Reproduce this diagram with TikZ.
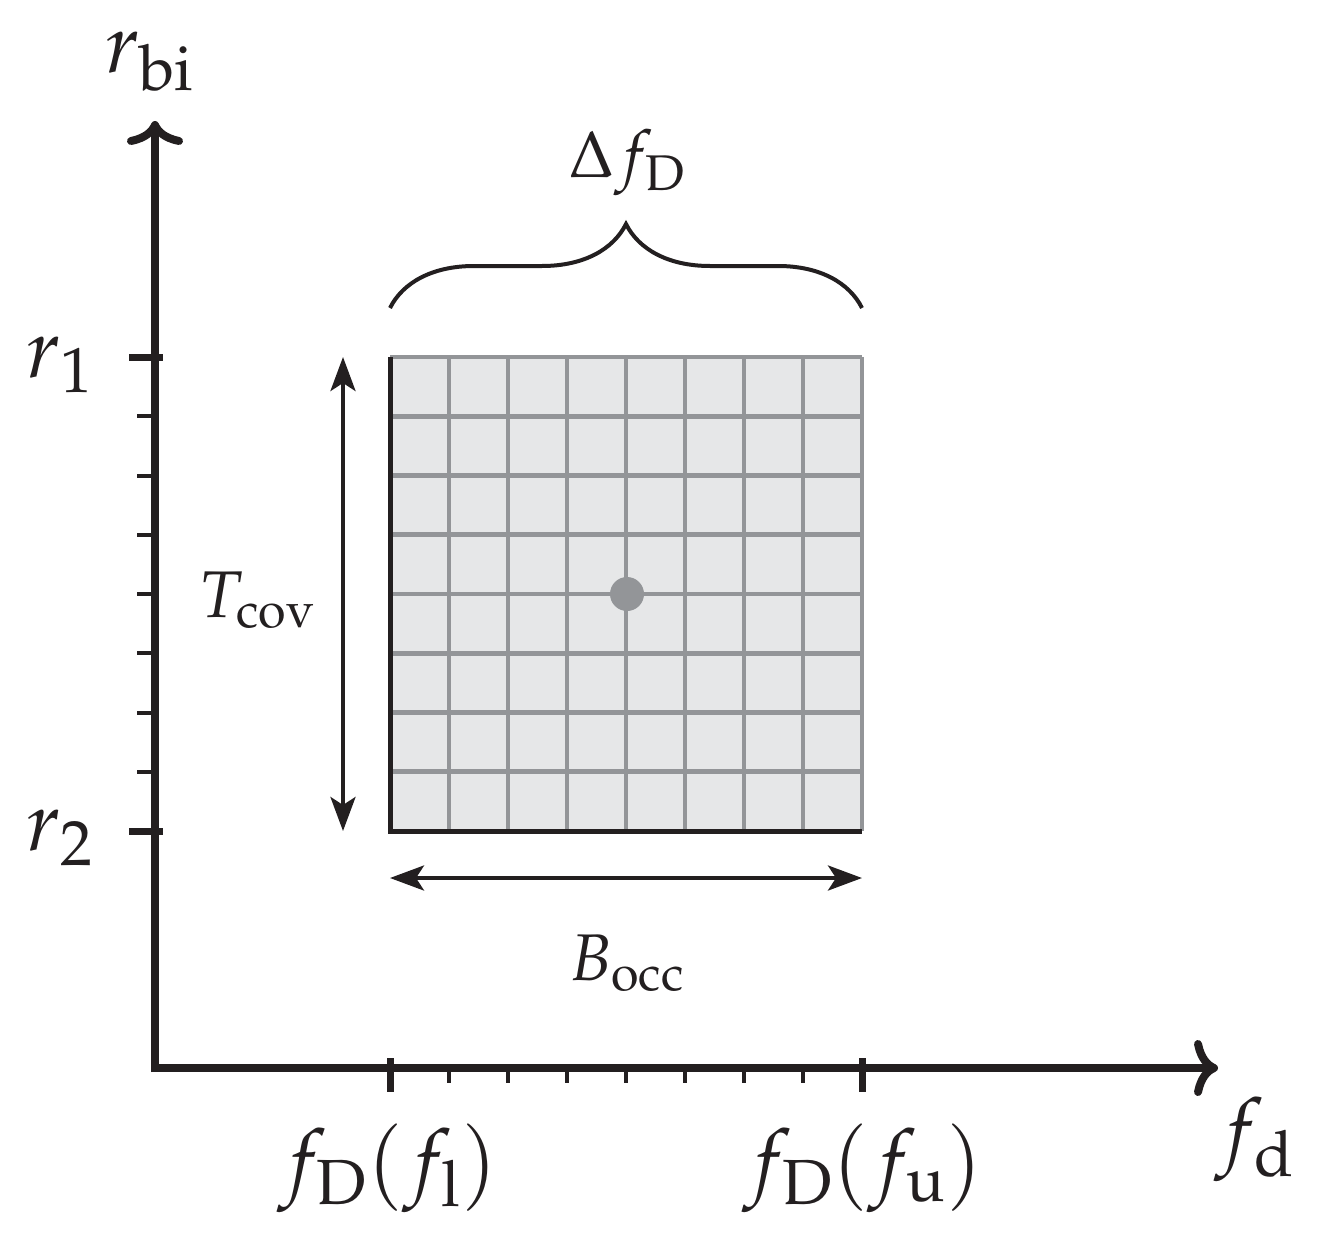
\documentclass[tikz,border=0pt]{standalone}
\usepackage{mathpazo}
\usetikzlibrary{arrows.meta,decorations.pathreplacing}
\definecolor{ink}{HTML}{231F20}
\definecolor{cellfill}{HTML}{E6E7E8}
\definecolor{gridgray}{HTML}{939598}
\tikzset{
  axis/.style={draw=ink,line width=4pt,-{Computer Modern Rightarrow[length=12pt,width=28pt]}},
  majortick/.style={draw=ink,line width=3.5pt},
  minortick/.style={draw=ink,line width=2pt},
  gridline/.style={draw=gridgray,line width=2.3pt},
  border/.style={draw=ink,line width=2.5pt},
  dimarrow/.style={draw=ink,line width=2pt,{Stealth[length=17pt,width=12.5pt,inset=4pt]}-{Stealth[length=17pt,width=12.5pt,inset=4pt]}},
  bracestyle/.style={draw=ink,line width=2pt,decorate,decoration={brace,amplitude=42pt}},
  biglabel/.style={text=ink,font=\fontsize{42}{50}\selectfont,inner sep=0pt},
  smalllabel/.style={text=ink,font=\fontsize{33}{40}\selectfont,inner sep=0pt},
}
\begin{document}
\begin{tikzpicture}[x=0.5pt,y=-0.5pt]
\useasboundingbox (0,0) rectangle (1327,1236);
% grid area
\coordinate (TL) at (390,357);
\coordinate (BR) at (862,831);
\coordinate (BL) at (390,831);
\coordinate (TR) at (862,357);
\fill[cellfill] (TL) rectangle (BR);
\foreach \i in {1,...,8} {
  \draw[gridline] ({390+59*\i},357) -- ({390+59*\i},831);
  \draw[gridline] (390,{357+59.25*(\i-1)}) -- (862,{357+59.25*(\i-1)});
}
\draw[border] (TL) -- (BL) -- (BR);
\node[circle,fill=gridgray,minimum size=17pt,inner sep=0pt] (dot) at (627,594) {};
% axes
\coordinate (O) at (155,1068);
\coordinate (Ostart) at (151,1068);
\coordinate (Ytip) at (155,121);
\coordinate (Xtip) at (1218,1068);
\draw[axis] (155,1072) -- (Ytip);
\draw[axis] (Ostart) -- (Xtip);
% y ticks
\draw[majortick] (129,357) -- (163,357);
\draw[majortick] (129,831) -- (163,831);
\foreach \i in {1,...,7} {
  \draw[minortick] (137,{357+59.25*\i}) -- (155,{357+59.25*\i});
}
% x ticks
\draw[majortick] (390,1058) -- (390,1092);
\draw[majortick] (862,1058) -- (862,1092);
\foreach \i in {1,...,7} {
  \draw[minortick] ({390+59*\i},1068) -- ({390+59*\i},1083);
}
% dimension arrows
\coordinate (Ta) at (343,357);
\coordinate (Tb) at (343,831);
\draw[dimarrow] (Ta) -- (Tb);
\coordinate (Ba) at (390,878);
\coordinate (Bb) at (862,878);
\draw[dimarrow] (Ba) -- (Bb);
% brace
\coordinate (bra) at (390,308);
\coordinate (brb) at (862,308);
\draw[bracestyle] (bra) -- (brb);
% labels
\node[smalllabel] (dfD) at (627,163) {$\Delta f_{\mathrm{D}}$};
\node[smalllabel] (Tcov) at (257,600) {$T_{\mathrm{cov}}$};
\node[smalllabel] (Bocc) at (627,963) {$B_{\mathrm{occ}}$};
\node[biglabel] (rbi) at (150,62) {$r_{\mathrm{bi}}$};
\node[biglabel] (r1) at (60,365) {$r_1$};
\node[biglabel] (r2) at (60,838) {$r_2$};
\node[biglabel] (fd) at (1255,1140) {$f_{\mathrm{d}}$};
\node[biglabel] (fl) at (388,1168) {$f_{\mathrm{D}}(f_{\mathrm{l}})$};
\node[biglabel] (fu) at (863,1168) {$f_{\mathrm{D}}(f_{\mathrm{u}})$};
\end{tikzpicture}
\end{document}
